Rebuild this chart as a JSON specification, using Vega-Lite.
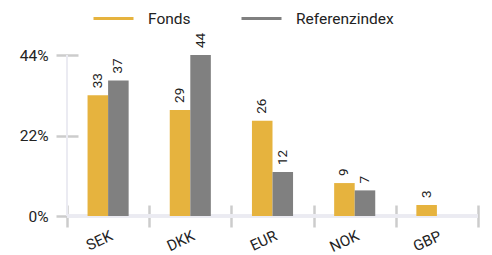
{
  "$schema": "https://vega.github.io/schema/vega-lite/v6.json",
  "autosize": "none",
  "width": 411,
  "height": 161,
  "padding": {"left": 67, "top": 55, "right": 14, "bottom": 39},
  "config": {
    "view": {"stroke": null},
    "font": "Roboto",
    "axis": {"labelFont": "Roboto", "labelFontSize": 15, "labelColor": "#222222", "title": null, "grid": false, "domain": false}
  },
  "data": {
    "values": [
      {"cur": "SEK", "series": "Fonds", "value": 33},
      {"cur": "SEK", "series": "Referenzindex", "value": 37},
      {"cur": "DKK", "series": "Fonds", "value": 29},
      {"cur": "DKK", "series": "Referenzindex", "value": 44},
      {"cur": "EUR", "series": "Fonds", "value": 26},
      {"cur": "EUR", "series": "Referenzindex", "value": 12},
      {"cur": "NOK", "series": "Fonds", "value": 9},
      {"cur": "NOK", "series": "Referenzindex", "value": 7},
      {"cur": "GBP", "series": "Fonds", "value": 3}
    ]
  },
  "encoding": {
    "x": {
      "field": "cur", "type": "nominal",
      "sort": ["SEK", "DKK", "EUR", "NOK", "GBP"],
      "scale": {"paddingInner": 0, "paddingOuter": 0},
      "axis": {
        "orient": "bottom", "offset": -11, "tickSize": 22, "tickBand": "extent",
        "tickColor": "#cccccc", "tickWidth": 2.5, "labelAngle": -25, "labelPadding": 1
      }
    },
    "y": {
      "field": "value", "type": "quantitative",
      "scale": {"domain": [0, 44], "nice": false},
      "axis": {
        "values": [0, 22, 44], "offset": -11, "tickSize": 22, "tickColor": "#cccccc",
        "tickWidth": 2.5, "labelPadding": 8, "labelFontSize": 15.5, "labelExpr": "datum.value + '%'"
      }
    }
  },
  "layer": [
    {
      "mark": {"type": "rule", "color": "#ebebf2", "strokeWidth": 3},
      "encoding": {"x": null, "y": {"datum": 0, "type": "quantitative"}}
    },
    {
      "mark": {"type": "rule", "color": "#ebebf2", "strokeWidth": 2},
      "encoding": {"y": null, "x": {"datum": "SEK", "type": "nominal", "bandPosition": 0}}
    },
    {
      "mark": {"type": "bar"},
      "encoding": {
        "xOffset": {"field": "series", "type": "nominal", "scale": {"paddingInner": 0, "paddingOuter": 1}},
        "color": {
          "field": "series", "type": "nominal",
          "scale": {"domain": ["Fonds", "Referenzindex"], "range": ["#e6b33e", "#808080"]},
          "legend": {
            "title": null, "orient": "none", "direction": "horizontal",
            "legendX": 25, "legendY": -58,
            "symbolType": "stroke", "symbolSize": 1600, "symbolStrokeWidth": 3,
            "labelFont": "Roboto", "labelFontSize": 15.5, "labelColor": "#222222",
            "labelOffset": 13, "columnPadding": 44,
            "encode": {"symbols": {"update": {"stroke": {"scale": "color", "field": "value"}, "strokeWidth": {"value": 3}}}}
          }
        }
      }
    },
    {
      "mark": {"type": "text", "angle": 270, "align": "left", "baseline": "middle", "dx": 7, "fontSize": 13.5, "color": "#222222"},
      "encoding": {
        "xOffset": {"field": "series", "type": "nominal", "scale": {"paddingInner": 0, "paddingOuter": 1}},
        "text": {"field": "value", "type": "quantitative"}
      }
    }
  ]
}
